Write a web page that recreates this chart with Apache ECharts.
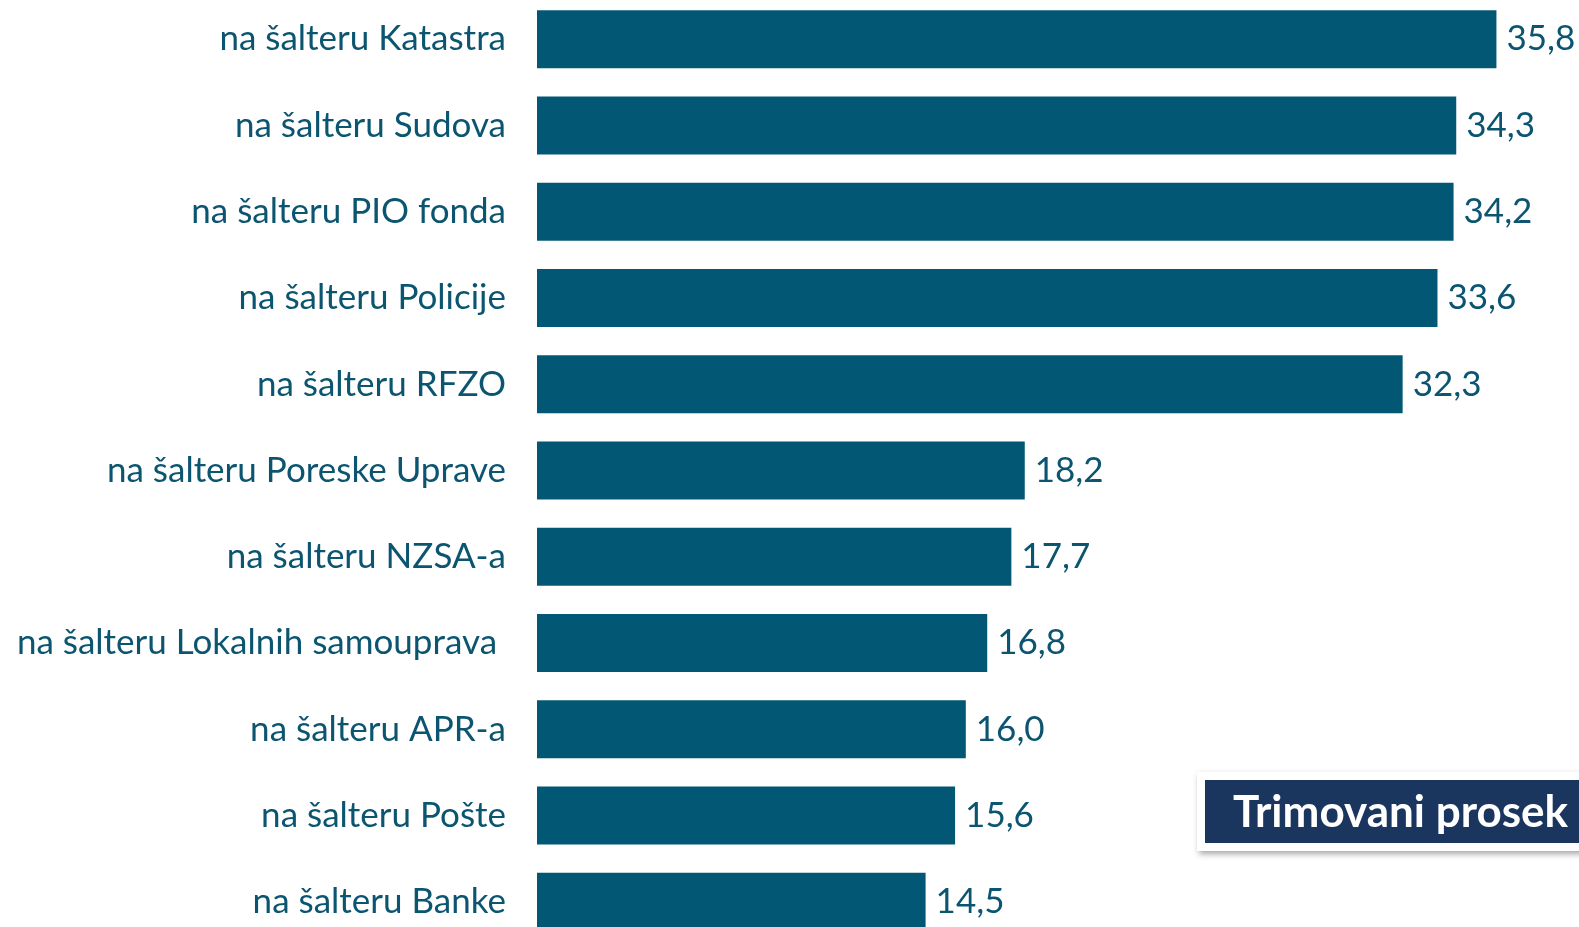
<!DOCTYPE html>
<html>
<head>
<meta charset="utf-8">
<script src="https://cdn.jsdelivr.net/npm/echarts@6/dist/echarts.min.js"></script>
<style>
  html, body { margin: 0; padding: 0; background: #fff; }
  #chart { width: 1579px; height: 927px; }
</style>
</head>
<body>
<div id="chart"></div>
<script>
const categories = [
  'na šalteru Katastra',
  'na šalteru Sudova',
  'na šalteru PIO fonda',
  'na šalteru Policije',
  'na šalteru RFZO',
  'na šalteru Poreske Uprave',
  'na šalteru NZSA-a',
  'na šalteru Lokalnih samouprava ',
  'na šalteru APR-a',
  'na šalteru Pošte',
  'na šalteru Banke'
];
const values = [35.8, 34.3, 34.2, 33.6, 32.3, 18.2, 17.7, 16.8, 16.0, 15.6, 14.5];
const badgeText = 'Trimovani prosek';

const chart = echarts.init(document.getElementById('chart'));

chart.setOption({
  animation: false,
  grid: { left: 537, top: -4, width: 1072, height: 949, outerBoundsMode: 'none', containLabel: false },
  xAxis: {
    type: 'value', min: 0, max: 40, show: false
  },
  yAxis: {
    type: 'category',
    data: categories,
    inverse: true,
    axisLine: { show: false },
    axisTick: { show: false },
    axisLabel: {
      margin: 31,
      color: '#0b5570',
      fontFamily: 'Lato',
      fontSize: 35,
      padding: [6, 0, 0, 0]
    }
  },
  series: [{
    type: 'bar',
    data: values,
    barWidth: 58,
    itemStyle: { color: '#025874' },
    label: {
      show: true,
      position: 'right',
      distance: 10,
      color: '#0b5570',
      fontFamily: 'Lato',
      fontSize: 35,
      padding: [6, 0, 0, 0],
      formatter: p => p.value.toFixed(1).replace('.', ',')
    }
  }],
  graphic: [{
    type: 'rect',
    left: 1197, top: 772,
    shape: { width: 400, height: 79 },
    style: {
      fill: '#fff',
      shadowBlur: 6, shadowOffsetX: 2, shadowOffsetY: 3,
      shadowColor: 'rgba(0,0,0,0.35)'
    }
  }, {
    type: 'rect',
    left: 1205, top: 780,
    shape: { width: 400, height: 63 },
    style: { fill: '#1b365e' }
  }, {
    type: 'text',
    x: 1233, y: 813,
    style: {
      text: badgeText,
      fill: '#fff',
      font: 'bold 44px Lato',
      verticalAlign: 'middle'
    }
  }]
});
</script>
</body>
</html>
